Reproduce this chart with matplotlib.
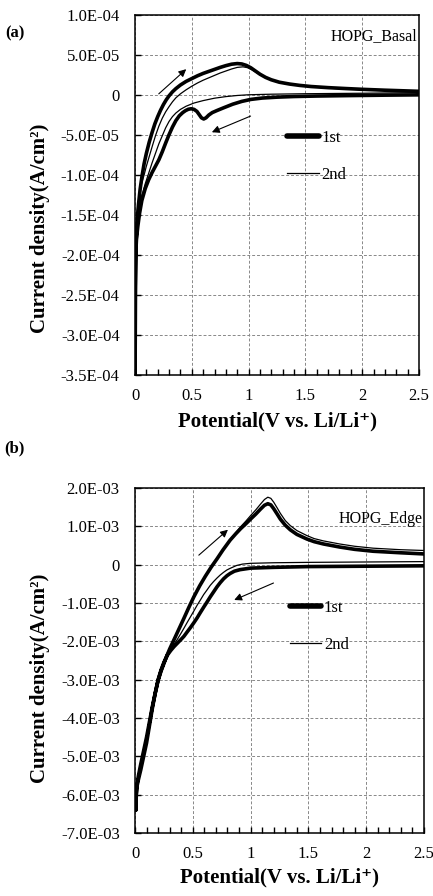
import matplotlib
matplotlib.use("Agg")
import matplotlib.pyplot as plt
import numpy as np

plt.rcParams['font.family'] = ['Liberation Serif', 'DejaVu Serif']

# ---------------- Panel (a) HOPG_Basal : current density in A/cm2 ----------------
a1_cath_v = [2.5, 2.2, 1.9, 1.6, 1.4, 1.25, 1.12, 1.02, 0.94, 0.86, 0.78, 0.72, 0.68, 0.65,
             0.625, 0.605, 0.585, 0.565, 0.545, 0.52, 0.495, 0.47, 0.445, 0.42, 0.39, 0.36,
             0.33, 0.30, 0.27, 0.24, 0.21, 0.18, 0.15, 0.12, 0.09, 0.06, 0.04, 0.025, 0.013,
             0.006, 0.003, 0.001]
a1_cath_i = [0.2e-6, -0.2e-6, -0.7e-6, -1.3e-6, -1.9e-6, -2.7e-6, -3.8e-6, -5.5e-6, -8e-6,
             -1.15e-5, -1.6e-5, -1.95e-5, -2.2e-5, -2.5e-5, -2.85e-5, -3.0e-5, -2.85e-5,
             -2.45e-5, -2.05e-5, -1.8e-5, -1.72e-5, -1.78e-5, -1.95e-5, -2.2e-5, -2.6e-5,
             -3.2e-5, -4.0e-5, -4.95e-5, -6.0e-5, -7.1e-5, -8.1e-5, -8.9e-5, -9.7e-5,
             -1.06e-4, -1.17e-4, -1.32e-4, -1.48e-4, -1.64e-4, -1.8e-4, -2.0e-4, -2.5e-4,
             -3.6e-4]
a1_anod_v = [0.001, 0.003, 0.006, 0.012, 0.02, 0.03, 0.045, 0.06, 0.08, 0.10, 0.125, 0.15,
             0.175, 0.20, 0.225, 0.25, 0.275, 0.30, 0.33, 0.36, 0.40, 0.45, 0.50, 0.55, 0.60,
             0.65, 0.70, 0.75, 0.80, 0.85, 0.90, 0.94, 0.98, 1.02, 1.06, 1.10, 1.15, 1.20,
             1.27, 1.36, 1.45, 1.55, 1.70, 1.85, 2.0, 2.2, 2.5]
a1_anod_i = [-3.6e-4, -2.4e-4, -2.0e-4, -1.75e-4, -1.55e-4, -1.38e-4, -1.18e-4, -1.03e-4,
             -8.6e-5, -7.3e-5, -5.9e-5, -4.7e-5, -3.6e-5, -2.7e-5, -1.9e-5, -1.2e-5, -6e-6,
             -1e-6, 4e-6, 8e-6, 1.25e-5, 1.7e-5, 2.05e-5, 2.4e-5, 2.7e-5, 2.95e-5, 3.2e-5,
             3.45e-5, 3.67e-5, 3.85e-5, 3.93e-5, 3.88e-5, 3.7e-5, 3.4e-5, 3.0e-5, 2.6e-5,
             2.2e-5, 1.9e-5, 1.6e-5, 1.37e-5, 1.2e-5, 1.06e-5, 9.2e-6, 8.1e-6, 7.1e-6,
             6.0e-6, 4.6e-6]
a2_cath_v = [2.5, 2.0, 1.5, 1.2, 1.0, 0.9, 0.8, 0.7, 0.6, 0.52, 0.45, 0.40, 0.36, 0.33,
             0.30, 0.27, 0.24, 0.21, 0.18, 0.15, 0.12, 0.09, 0.06, 0.04, 0.025, 0.012, 0.004]
a2_cath_i = [3e-6, 2.2e-6, 1.6e-6, 1.0e-6, 0.3e-6, -0.6e-6, -2.0e-6, -4.0e-6, -7.0e-6,
             -1.0e-5, -1.4e-5, -1.8e-5, -2.25e-5, -2.7e-5, -3.3e-5, -4.1e-5, -5.1e-5,
             -6.1e-5, -7.3e-5, -8.5e-5, -9.8e-5, -1.11e-4, -1.26e-4, -1.38e-4, -1.5e-4,
             -1.65e-4, -1.85e-4]
a2_anod_v = [0.004, 0.01, 0.02, 0.035, 0.055, 0.08, 0.10, 0.125, 0.15, 0.18, 0.21, 0.24,
             0.27, 0.30, 0.33, 0.36, 0.40, 0.45, 0.50, 0.55, 0.60, 0.65, 0.70, 0.75, 0.80,
             0.85, 0.90, 0.95, 0.99, 1.03, 1.07, 1.11, 1.16, 1.22, 1.30, 1.40, 1.55, 1.70,
             1.85, 2.0, 2.2, 2.5]
a2_anod_i = [-1.85e-4, -1.65e-4, -1.45e-4, -1.27e-4, -1.12e-4, -1.0e-4, -8.9e-5, -7.7e-5,
             -6.5e-5, -5.1e-5, -3.9e-5, -2.9e-5, -2.1e-5, -1.45e-5, -8.5e-6, -3.5e-6, 1.5e-6,
             6.5e-6, 1.1e-5, 1.5e-5, 1.85e-5, 2.15e-5, 2.45e-5, 2.75e-5, 3.0e-5, 3.25e-5,
             3.45e-5, 3.52e-5, 3.42e-5, 3.15e-5, 2.8e-5, 2.45e-5, 2.1e-5, 1.8e-5, 1.5e-5,
             1.26e-5, 1.02e-5, 8.6e-6, 7.5e-6, 6.6e-6, 5.6e-6, 4.2e-6]

a_yticks = [1e-4, 5e-5, 0, -5e-5, -1e-4, -1.5e-4, -2e-4, -2.5e-4, -3e-4, -3.5e-4]
a_yticklabels = ['1.0E-04', '5.0E-05', '0', '-5.0E-05', '-1.0E-04', '-1.5E-04',
                 '-2.0E-04', '-2.5E-04', '-3.0E-04', '-3.5E-04']

# ---------------- Panel (b) HOPG_Edge ----------------
b1_cath_v = [2.5, 2.0, 1.5, 1.2, 1.0, 0.909, 0.86, 0.823, 0.795, 0.766, 0.737, 0.709, 0.68,
             0.651, 0.622, 0.594, 0.565, 0.537, 0.508, 0.48, 0.45, 0.423, 0.395, 0.366,
             0.337, 0.309, 0.28, 0.25, 0.225, 0.20, 0.175, 0.15, 0.125, 0.10, 0.075, 0.05,
             0.03, 0.016, 0.011, 0.008]
b1_cath_i = [-0.03e-3, -0.04e-3, -0.05e-3, -0.07e-3, -0.09e-3, -0.13e-3, -0.17e-3, -0.23e-3,
             -0.29e-3, -0.37e-3, -0.47e-3, -0.58e-3, -0.71e-3, -0.84e-3, -0.98e-3, -1.11e-3,
             -1.25e-3, -1.39e-3, -1.52e-3, -1.64e-3, -1.76e-3, -1.87e-3, -1.96e-3, -2.05e-3,
             -2.14e-3, -2.24e-3, -2.36e-3, -2.55e-3, -2.75e-3, -3.0e-3, -3.35e-3, -3.75e-3,
             -4.2e-3, -4.65e-3, -5.0e-3, -5.35e-3, -5.6e-3, -5.8e-3, -6.0e-3, -6.4e-3]
b1_anod_v = [0.008, 0.011, 0.016, 0.03, 0.05, 0.075, 0.10, 0.125, 0.15, 0.175, 0.20, 0.225,
             0.25, 0.275, 0.30, 0.337, 0.38, 0.423, 0.465, 0.509, 0.56, 0.609, 0.66, 0.709,
             0.76, 0.823, 0.87, 0.914, 0.96, 1.0, 1.045, 1.086, 1.12, 1.149, 1.175, 1.2,
             1.23, 1.257, 1.30, 1.343, 1.40, 1.486, 1.55, 1.63, 1.77, 1.9, 2.06, 2.3, 2.5]
b1_anod_i = [-6.4e-3, -6.0e-3, -5.75e-3, -5.5e-3, -5.2e-3, -4.85e-3, -4.5e-3, -4.1e-3,
             -3.7e-3, -3.35e-3, -3.02e-3, -2.78e-3, -2.58e-3, -2.38e-3, -2.2e-3, -1.96e-3,
             -1.68e-3, -1.40e-3, -1.12e-3, -0.84e-3, -0.55e-3, -0.30e-3, -0.06e-3, 0.15e-3,
             0.38e-3, 0.64e-3, 0.80e-3, 0.94e-3, 1.07e-3, 1.19e-3, 1.32e-3, 1.45e-3,
             1.55e-3, 1.59e-3, 1.56e-3, 1.46e-3, 1.32e-3, 1.19e-3, 1.03e-3, 0.91e-3,
             0.79e-3, 0.67e-3, 0.60e-3, 0.54e-3, 0.46e-3, 0.40e-3, 0.35e-3, 0.31e-3, 0.28e-3]
b2_cath_v = [2.5, 2.0, 1.5, 1.2, 1.0, 0.93, 0.88, 0.85, 0.82, 0.794, 0.766, 0.737, 0.709,
             0.68, 0.651, 0.623, 0.594, 0.566, 0.537, 0.509, 0.48, 0.451, 0.423, 0.394,
             0.366, 0.337, 0.30, 0.275, 0.25, 0.225, 0.20, 0.175, 0.15, 0.125, 0.10, 0.075,
             0.05, 0.03, 0.016, 0.01]
b2_cath_i = [0.08e-3, 0.07e-3, 0.06e-3, 0.05e-3, 0.035e-3, 0.015e-3, -0.02e-3, -0.06e-3,
             -0.1e-3, -0.14e-3, -0.2e-3, -0.27e-3, -0.35e-3, -0.44e-3, -0.54e-3, -0.66e-3,
             -0.78e-3, -0.92e-3, -1.06e-3, -1.21e-3, -1.36e-3, -1.51e-3, -1.66e-3, -1.81e-3,
             -1.95e-3, -2.08e-3, -2.28e-3, -2.45e-3, -2.62e-3, -2.82e-3, -3.05e-3, -3.4e-3,
             -3.8e-3, -4.22e-3, -4.65e-3, -5.0e-3, -5.3e-3, -5.55e-3, -5.75e-3, -6.0e-3]
b2_anod_v = [0.01, 0.016, 0.03, 0.05, 0.075, 0.10, 0.125, 0.15, 0.175, 0.20, 0.225, 0.25,
             0.275, 0.30, 0.337, 0.38, 0.423, 0.465, 0.509, 0.56, 0.609, 0.66, 0.709, 0.76,
             0.823, 0.87, 0.914, 0.96, 1.0, 1.045, 1.086, 1.12, 1.149, 1.175, 1.2, 1.23,
             1.257, 1.30, 1.343, 1.40, 1.486, 1.55, 1.63, 1.77, 1.9, 2.06, 2.3, 2.5]
b2_anod_i = [-6.0e-3, -5.7e-3, -5.45e-3, -5.15e-3, -4.8e-3, -4.45e-3, -4.05e-3, -3.65e-3,
             -3.3e-3, -3.0e-3, -2.76e-3, -2.56e-3, -2.37e-3, -2.18e-3, -1.95e-3, -1.68e-3,
             -1.40e-3, -1.12e-3, -0.85e-3, -0.56e-3, -0.31e-3, -0.07e-3, 0.15e-3, 0.38e-3,
             0.65e-3, 0.83e-3, 0.99e-3, 1.14e-3, 1.28e-3, 1.43e-3, 1.58e-3, 1.70e-3,
             1.76e-3, 1.73e-3, 1.63e-3, 1.48e-3, 1.34e-3, 1.15e-3, 1.02e-3, 0.89e-3,
             0.76e-3, 0.68e-3, 0.62e-3, 0.54e-3, 0.48e-3, 0.43e-3, 0.39e-3, 0.37e-3]

b_yticks = [2e-3, 1e-3, 0, -1e-3, -2e-3, -3e-3, -4e-3, -5e-3, -6e-3, -7e-3]
b_yticklabels = ['2.0E-03', '1.0E-03', '0', '-1.0E-03', '-2.0E-03', '-3.0E-03',
                 '-4.0E-03', '-5.0E-03', '-6.0E-03', '-7.0E-03']

x_ticks = [0, 0.5, 1, 1.5, 2, 2.5]
x_ticklabels = ['0', '0.5', '1', '1.5', '2', '2.5']
legend_labels = ['1st', '2nd']

W, H = 433, 896
fig = plt.figure(figsize=(W / 100, H / 100), dpi=100)


def px_rect(l, t, r, b):
    return [l / W, 1 - b / H, (r - l) / W, (b - t) / H]


def setup(ax, yticks, ylabels, ylim):
    ax.set_xlim(0, 2.5)
    ax.set_ylim(*ylim)
    ax.set_xticks(x_ticks)
    ax.set_xticklabels(x_ticklabels)
    ax.set_xticks(np.arange(0, 2.51, 0.1), minor=True)
    ax.set_yticks(yticks)
    ax.set_yticklabels(ylabels)
    ax.tick_params(axis='x', which='both', direction='in', length=4, width=1, pad=9,
                   labelsize=12, top=False)
    ax.tick_params(axis='y', which='both', direction='in', length=4, width=1, pad=11,
                   labelsize=12, right=False)
    ax.grid(True, which='major', color='#888888', linestyle=(0, (3, 2)), linewidth=0.7)
    for s in ax.spines.values():
        s.set_linewidth(1.1)
        s.set_color('black')


def draw_cycles(ax, c1, c2):
    v1 = c1[0] + c1[2]
    i1 = c1[1] + c1[3]
    v2 = c2[0] + c2[2]
    i2 = c2[1] + c2[3]
    ax.plot(v1, i1, color='black', lw=2.6, label=legend_labels[0],
            solid_joinstyle='round', solid_capstyle='round')
    ax.plot(v2, i2, color='black', lw=0.9, label=legend_labels[1],
            solid_joinstyle='round')


# Panel a
axa = fig.add_axes(px_rect(135, 15, 419, 375))
setup(axa, a_yticks, a_yticklabels, (-3.5e-4, 1e-4))
draw_cycles(axa, (a1_cath_v, a1_cath_i, a1_anod_v, a1_anod_i),
            (a2_cath_v, a2_cath_i, a2_anod_v, a2_anod_i))
axa.annotate('', xy=(0.469, 3.46e-5), xytext=(0.191, -0.9e-6),
             arrowprops=dict(arrowstyle='-|>', color='black', lw=0.8, mutation_scale=11))
axa.annotate('', xy=(0.654, -4.79e-5), xytext=(1.04, -2.5e-5),
             arrowprops=dict(arrowstyle='-|>', color='black', lw=0.8, mutation_scale=11))
axa.text(0.995, 0.94, 'HOPG_Basal', transform=axa.transAxes, ha='right', va='center',
         fontsize=11.5)
leg = axa.legend(loc='upper left', bbox_to_anchor=(0.535, 0.68), frameon=False, fontsize=12,
                 handlelength=1.9, handletextpad=0.15, labelspacing=1.25, borderpad=0,
                 borderaxespad=0)
leg.get_lines()[0].set_linewidth(4)

# Panel b
axb = fig.add_axes(px_rect(135, 488, 424, 833))
setup(axb, b_yticks, b_yticklabels, (-7e-3, 2e-3))
draw_cycles(axb, (b1_cath_v, b1_cath_i, b1_anod_v, b1_anod_i),
            (b2_cath_v, b2_cath_i, b2_anod_v, b2_anod_i))
axb.annotate('', xy=(0.822, 0.96e-3), xytext=(0.534, 0.2e-3),
             arrowprops=dict(arrowstyle='-|>', color='black', lw=0.8, mutation_scale=11))
axb.annotate('', xy=(0.836, -0.95e-3), xytext=(1.22, -0.45e-3),
             arrowprops=dict(arrowstyle='-|>', color='black', lw=0.8, mutation_scale=11))
axb.text(0.995, 0.91, 'HOPG_Edge', transform=axb.transAxes, ha='right', va='center',
         fontsize=11.5)
leg = axb.legend(loc='upper left', bbox_to_anchor=(0.535, 0.675), frameon=False, fontsize=12,
                 handlelength=1.9, handletextpad=0.15, labelspacing=1.25, borderpad=0,
                 borderaxespad=0)
leg.get_lines()[0].set_linewidth(4)

# Labels
ylab = 'Current density(A/cm\u00b2)'
xlab = 'Potential(V vs. Li/Li\u207a)'
fig.text(40 / W, 1 - 228 / H, ylab, rotation=90, ha='center', va='center', fontsize=15,
         fontweight='bold')
fig.text(40 / W, 1 - 678 / H, ylab, rotation=90, ha='center', va='center', fontsize=15,
         fontweight='bold')
fig.text(278 / W, 1 - 421 / H, xlab, ha='center', va='center', fontsize=15, fontweight='bold')
fig.text(279 / W, 1 - 877 / H, xlab, ha='center', va='center', fontsize=15, fontweight='bold')
fig.text(15 / W, 1 - 33 / H, '(a)', ha='center', va='center', fontsize=12, fontweight='bold')
fig.text(14 / W, 1 - 448 / H, '(b)', ha='center', va='center', fontsize=12, fontweight='bold')

fig.savefig('out.png', dpi=100)
